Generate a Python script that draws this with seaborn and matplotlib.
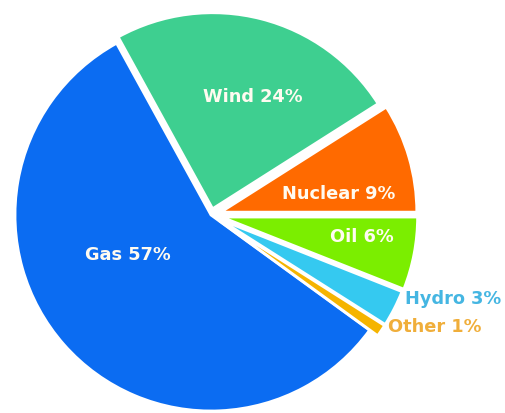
import matplotlib
matplotlib.use("Agg")
import matplotlib.pyplot as plt
import seaborn as sns

# Data
sources = ["Gas", "Wind", "Nuclear", "Oil", "Hydro", "Other"]
shares = [57, 24, 9, 6, 3, 1]
colors_hex = ["#0b6cf2", "#3ecf90", "#ff6a00", "#7bee00", "#35c9f0", "#f5b400"]

# Layout / style (not data)
RADIUS = 196
explode_frac = [0.0, 0.033, 0.052, 0.055, 0.05, 0.05]
label_pos = [(128, 158), (253, 316), (339, 219), (362, 176), (405, 114), (388, 86)]
label_ha = ["center", "center", "center", "center", "left", "left"]
label_colors = ["#fffbf0", "#fffbf0", "#fffbf0", "#fffbf0", "#45b6e2", "#f0ae3a"]

sns.set_theme(style="white")
plt.rcParams["font.family"] = ["DejaVu Sans"]

fig = plt.figure(figsize=(5.05, 4.13), dpi=100)
fig.patch.set_facecolor("white")
ax = fig.add_axes([0, 0, 1, 1])

palette = sns.color_palette(colors_hex)
ax.pie(shares, explode=[e * RADIUS for e in explode_frac], colors=palette,
       startangle=-36, counterclock=False, center=(211, 198), radius=RADIUS,
       wedgeprops=dict(edgecolor="white", linewidth=2.0), frame=True)
ax.set_xlim(0, 505)
ax.set_ylim(0, 413)
ax.set_aspect("equal")
ax.axis("off")

for name, val, (x, y), ha, c in zip(sources, shares, label_pos, label_ha, label_colors):
    ax.text(x, y, f"{name} {val}%", ha=ha, va="center", color=c,
            fontsize=12.8, fontweight="bold")

fig.savefig("out.png", dpi=100, facecolor="white")
